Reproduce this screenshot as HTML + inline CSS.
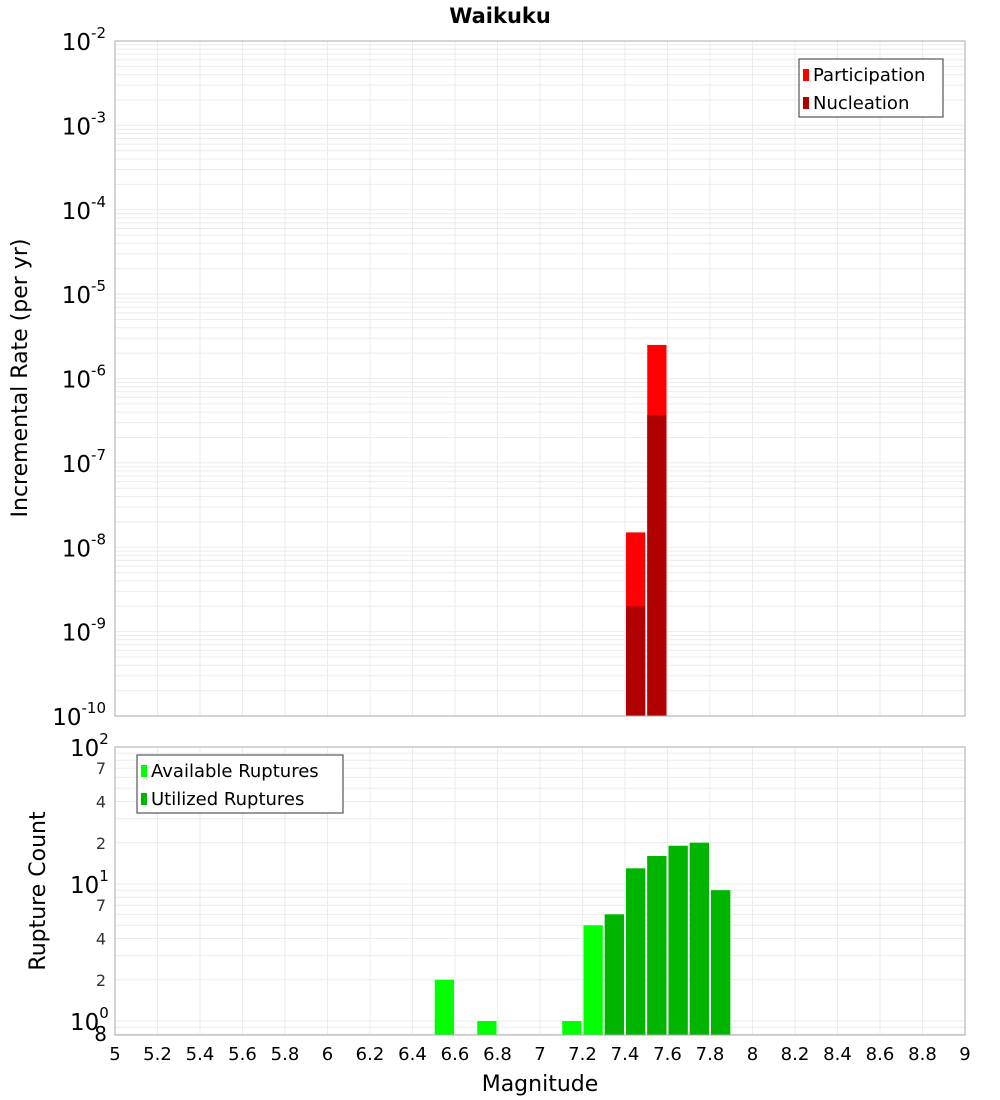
<!DOCTYPE html>
<html><head><meta charset="utf-8"><style>
body{margin:0;background:#fff;}
svg{display:block;font-family:"DejaVu Sans","Liberation Sans",sans-serif;}
</style></head><body>
<svg id="chart" width="1000" height="1100"></svg>
<script>
const binCenters = [7.45, 7.55];
const participation = [1.5e-8, 2.5e-6];
const nucleation = [2e-9, 3.7e-7];
const availCenters = [6.55, 6.75, 7.15, 7.25, 7.35, 7.45, 7.55, 7.65, 7.75, 7.85];
const availCounts = [2, 1, 1, 5, 6, 13, 16, 19, 20, 9];
const utilCenters = [7.35, 7.45, 7.55, 7.65, 7.75, 7.85];
const utilCounts = [6, 13, 16, 19, 20, 9];
const xTicks = [5,5.2,5.4,5.6,5.8,6,6.2,6.4,6.6,6.8,7,7.2,7.4,7.6,7.8,8,8.2,8.4,8.6,8.8,9];
const topExps = [-10,-9,-8,-7,-6,-5,-4,-3,-2];
const botMinorLabels = [[7,70],[4,40],[2,20],[7,7],[4,4],[2,2],["8",0.79]];

const NS="http://www.w3.org/2000/svg";
const svg=document.getElementById('chart');
function el(t,a,p){const e=document.createElementNS(NS,t);for(const k in a)e.setAttribute(k,a[k]);(p||svg).appendChild(e);return e;}
const X0=115,X1=965;
const x=v=>X0+(v-5)/4*(X1-X0);
const T0=41,T1=716;
const yT=v=>T1-(Math.log10(v)+10)/8*(T1-T0);
const B0=747,B1=1035,dec=137,base0=1021;
const yB=v=>base0-Math.log10(v)*dec;

// top plot background and grid
el('rect',{x:X0,y:T0,width:X1-X0,height:T1-T0,fill:'#fff'});
for(const t of xTicks){const g=el('line',{x1:x(t),x2:x(t),y1:T0,y2:T1,stroke:'#ebebeb'});}
for(let e=-10;e<-2;e++)for(let m=1;m<10;m++){const y=yT(m*Math.pow(10,e));const g=el('line',{x1:X0,x2:X1,y1:y,y2:y,stroke:'#ebebeb'});}
// bottom grid
el('rect',{x:X0,y:B0,width:X1-X0,height:B1-B0,fill:'#fff'});
for(const t of xTicks){const g=el('line',{x1:x(t),x2:x(t),y1:B0,y2:B1,stroke:'#ebebeb'});}
for(const d of [0.1,1,10])for(let m=1;m<10;m++){const v=m*d;const y=yB(v);if(y<B0||y>B1)continue;const g=el('line',{x1:X0,x2:X1,y1:y,y2:y,stroke:'#ebebeb'});}
{const y=yB(100);el('line',{x1:X0,x2:X1,y1:y,y2:y,stroke:'#ebebeb'});}

// top bars
function bar(c,v,yf,bottom,fill,name){const r=el('rect',{x:x(c-0.05)+1,y:yf(v),width:x(c+0.05)-x(c-0.05)-2,height:bottom-yf(v),fill:fill});}
binCenters.forEach((c,i)=>bar(c,participation[i],yT,T1,'#ff0000','participation-bar'));
binCenters.forEach((c,i)=>bar(c,nucleation[i],yT,T1,'#b00000','nucleation-bar'));
availCenters.forEach((c,i)=>bar(c,availCounts[i],yB,B1,'#00ff00','available-bar'));
utilCenters.forEach((c,i)=>bar(c,utilCounts[i],yB,B1,'#00b400','utilized-bar'));

// frames
el('rect',{x:X0,y:T0,width:X1-X0,height:T1-T0,fill:'none',stroke:'#aaaaaa'});
el('rect',{x:X0,y:B0,width:X1-X0,height:B1-B0,fill:'none',stroke:'#aaaaaa'});

// title
{const t=el('text',{x:500,y:23,'text-anchor':'middle','font-size':21,'font-weight':'bold'});t.textContent='Waikuku';}

// top y labels
for(const e of topExps){const y=yT(Math.pow(10,e));const t=el('text',{x:106,y:y+9,'text-anchor':'end','font-size':23});
 const a=el('tspan',{},t);a.textContent='10';const b=el('tspan',{dy:-12,'font-size':15},t);b.textContent=String(e);}
// bottom y labels
[[0,1],[1,10],[2,100]].forEach(([e,v])=>{const y=yB(v);const t=el('text',{x:70,y:y+9,'font-size':23});const a=el('tspan',{},t);a.textContent='10';const b=el('tspan',{dy:-12,'font-size':15},t);b.textContent=String(e);});
for(const [lab,v] of botMinorLabels){const y=yB(v);const t=el('text',{x:v<1?107:106,y:y+6,'text-anchor':'end','font-size':v<1?20:16,fill:v<1?'#000':'#333'});t.textContent=lab;}
// x labels
for(const v of xTicks){const t=el('text',{x:x(v),y:1060,'text-anchor':'middle','font-size':18});t.textContent=String(v);}
{const t=el('text',{x:540,y:1091,'text-anchor':'middle','font-size':22});t.textContent='Magnitude';}
{const t=el('text',{x:27,y:378,'text-anchor':'middle','font-size':22,transform:'rotate(-90 27 378)'});t.textContent='Incremental Rate (per yr)';}
{const t=el('text',{x:45,y:891,'text-anchor':'middle','font-size':22,transform:'rotate(-90 45 891)'});t.textContent='Rupture Count';}

// legends
function legend(x0,y0,w,items,name){const g=el('g',{});
 el('rect',{x:x0,y:y0,width:w,height:58,fill:'#fff',stroke:'#333'},g);
 items.forEach(([lab,c],i)=>{el('rect',{x:x0+4,y:y0+10+i*28,width:6,height:12,fill:c},g);const t=el('text',{x:x0+14,y:y0+22+i*28,'font-size':18},g);t.textContent=lab;});}
legend(799,59,144,[['Participation','#ff0000'],['Nucleation','#b00000']],'rate-legend');
legend(137,755,206,[['Available Ruptures','#00ff00'],['Utilized Ruptures','#00b400']],'count-legend');
</script>
</body></html>
